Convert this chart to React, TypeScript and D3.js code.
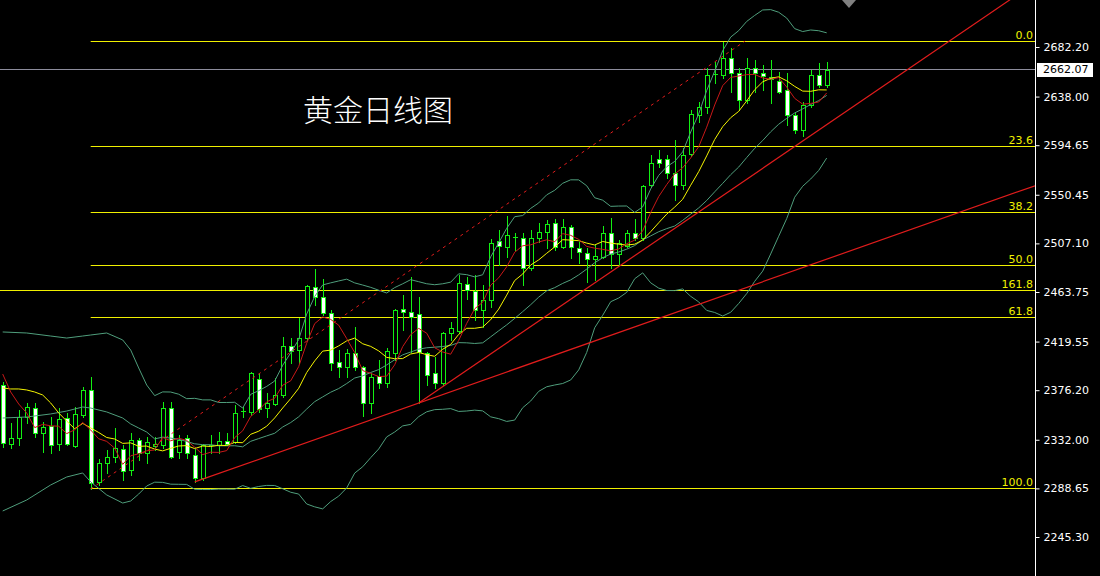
import React, { useEffect, useRef } from "react";
import * as d3 from "d3";

const W = 1100;
const H = 576;

const opens = [
  2380.8, 2328.2, 2333.6, 2352.3, 2360.3, 2338.0, 2344.3, 2328.2, 2351.4, 2326.4,
  2354.1, 2376.4, 2294.4, 2311.3, 2316.6, 2323.8, 2305.1, 2331.8, 2320.2, 2326.4,
  2327.3, 2360.3, 2321.1, 2333.6, 2318.4, 2297.9, 2326.4, 2327.3, 2330.9, 2330.0,
  2356.8, 2356.8, 2386.2, 2360.3, 2363.9, 2371.9, 2415.6, 2412.0, 2422.7, 2468.2,
  2459.3, 2445.0, 2401.3, 2396.9, 2409.4, 2396.9, 2364.8, 2388.9, 2382.6, 2409.4,
  2448.6, 2445.9, 2444.1, 2409.4, 2391.5, 2382.6, 2427.2, 2429.0, 2470.9, 2464.6,
  2447.7, 2456.6, 2509.2, 2503.9, 2512.8, 2511.9, 2485.2, 2511.9, 2517.3, 2525.3,
  2503.9, 2521.7, 2503.0, 2498.5, 2493.2, 2495.0, 2516.4, 2497.6, 2504.8, 2516.4,
  2511.9, 2559.2, 2582.3, 2582.3, 2569.9, 2559.2, 2586.8, 2621.6, 2628.7, 2657.2,
  2657.2, 2672.4, 2659.0, 2634.9, 2663.5, 2659.0, 2655.5, 2651.9, 2643.9, 2621.6,
  2608.2, 2630.5, 2657.2, 2648.3,
];
const highs = [
  2383.5, 2347.0, 2358.5, 2364.8, 2364.8, 2347.9, 2352.3, 2360.3, 2355.9, 2361.2,
  2379.0, 2388.0, 2314.9, 2322.9, 2342.5, 2327.3, 2338.0, 2333.6, 2334.5, 2334.5,
  2365.7, 2365.7, 2336.3, 2336.3, 2325.6, 2328.2, 2336.3, 2338.9, 2338.0, 2363.0,
  2361.2, 2392.4, 2391.5, 2373.7, 2387.1, 2423.6, 2422.7, 2440.6, 2470.0, 2484.3,
  2475.4, 2447.7, 2412.0, 2412.9, 2432.6, 2397.8, 2391.5, 2403.1, 2413.8, 2448.6,
  2461.1, 2477.1, 2459.3, 2410.3, 2405.8, 2428.1, 2437.0, 2478.9, 2477.1, 2478.9,
  2470.0, 2511.0, 2519.0, 2531.5, 2516.4, 2516.4, 2519.0, 2525.3, 2527.9, 2528.8,
  2528.8, 2523.5, 2508.3, 2503.0, 2505.7, 2522.6, 2529.7, 2510.1, 2519.0, 2528.8,
  2559.2, 2586.0, 2590.4, 2586.0, 2599.3, 2592.1, 2626.0, 2633.2, 2663.5, 2668.9,
  2687.0, 2681.3, 2663.5, 2672.4, 2670.6, 2666.1, 2670.6, 2659.9, 2659.0, 2624.2,
  2633.2, 2661.7, 2667.9, 2668.9,
];
const lows = [
  2325.6, 2324.7, 2327.3, 2347.0, 2334.5, 2321.1, 2320.2, 2322.9, 2327.3, 2325.6,
  2352.3, 2288.1, 2291.7, 2302.4, 2312.2, 2296.1, 2300.6, 2314.0, 2311.3, 2322.9,
  2324.7, 2315.8, 2315.8, 2315.8, 2294.4, 2296.1, 2320.2, 2320.2, 2327.3, 2329.1,
  2352.3, 2354.1, 2356.8, 2352.3, 2363.0, 2370.1, 2400.5, 2400.5, 2421.0, 2452.2,
  2443.2, 2394.2, 2388.0, 2388.0, 2394.2, 2353.2, 2355.9, 2378.2, 2379.0, 2403.1,
  2429.9, 2410.3, 2364.8, 2380.8, 2378.2, 2380.8, 2421.0, 2427.2, 2457.5, 2438.8,
  2432.6, 2450.5, 2487.8, 2495.0, 2501.2, 2470.0, 2483.4, 2508.3, 2503.0, 2501.2,
  2503.0, 2494.1, 2489.6, 2472.7, 2474.5, 2494.1, 2485.2, 2487.8, 2503.9, 2510.1,
  2510.1, 2557.4, 2575.2, 2565.4, 2545.8, 2555.6, 2585.0, 2615.3, 2623.3, 2650.1,
  2654.6, 2642.1, 2626.0, 2632.3, 2642.1, 2643.9, 2632.3, 2641.2, 2612.6, 2605.5,
  2602.8, 2628.7, 2646.5, 2646.5,
];
const closes = [
  2329.1, 2333.6, 2352.3, 2361.2, 2338.0, 2343.4, 2327.3, 2350.5, 2328.2, 2355.0,
  2376.4, 2293.5, 2311.3, 2316.6, 2324.7, 2304.2, 2331.8, 2320.2, 2330.0, 2328.2,
  2360.3, 2316.6, 2331.8, 2320.2, 2297.9, 2327.3, 2327.3, 2330.9, 2328.2, 2355.9,
  2357.6, 2391.5, 2359.4, 2364.8, 2371.9, 2415.6, 2411.2, 2422.7, 2469.1, 2459.3,
  2445.0, 2400.5, 2396.9, 2409.4, 2396.9, 2364.8, 2388.0, 2382.6, 2411.2, 2447.7,
  2445.9, 2441.5, 2410.3, 2389.8, 2382.6, 2427.2, 2431.6, 2471.8, 2465.5, 2447.7,
  2456.6, 2507.5, 2504.8, 2514.6, 2512.6, 2485.2, 2511.9, 2517.3, 2524.4, 2503.9,
  2521.7, 2503.9, 2499.4, 2493.2, 2495.9, 2516.4, 2497.6, 2507.5, 2516.4, 2511.9,
  2558.3, 2578.8, 2578.8, 2569.9, 2559.2, 2586.0, 2622.5, 2628.7, 2657.2, 2658.1,
  2672.4, 2659.0, 2634.9, 2663.5, 2659.0, 2656.3, 2653.7, 2642.1, 2621.6, 2608.2,
  2630.5, 2657.2, 2648.3, 2662.07,
];

// indicator values read at the left edge, before a full averaging window is visible
const ma5Early = [2390.6, 2374.6, 2363.9, 2355.9];
const ma10Early = [2378.2, 2377.3, 2377.3, 2376.4, 2374.6, 2371.9, 2364.8, 2355.9, 2348.7];
const bandEarlyIdx = [0, 3, 6, 8, 10, 11, 13, 15, 16, 17, 18];
const bandUpperEarly = [2428.1, 2427.2, 2424.5, 2422.7, 2424.5, 2425.4, 2427.2, 2421.0, 2412.0, 2396.0, 2380.8];
const bandMiddleEarly = [2351.4, 2352.3, 2355.0, 2357.6, 2361.2, 2360.3, 2356.8, 2351.4, 2346.1, 2342.5, 2338.9];
const bandLowerEarly = [2268.5, 2278.3, 2291.7, 2298.8, 2302.4, 2294.4, 2282.8, 2275.6, 2277.4, 2283.6, 2290.8];

const priceTicks = [2682.2, 2638.0, 2594.65, 2550.45, 2507.1, 2463.75, 2419.55, 2376.2, 2332.0, 2288.65, 2245.3];
const lastPrice = 2662.07;

const fibRatios = [0, 0.236, 0.382, 0.5, 0.618, 1];
const fibLabels = ["0.0", "23.6", "38.2", "50.0", "61.8", "100.0"];
const fibHigh = 2687.5;
const fibLow = 2288.1;
const fibStartIdx = 11;
const extLevelLabel = "161.8";
const extLevelPrice = 2465.1;

const trendDashed: [number, number][] = [[11, 2288.1], [92.8, 2687.5]];
const trendLower: [number, number][] = [[24, 2294.4], [52, 2364.8]];
const trendUpper: [number, number][] = [[52, 2364.8], [120, 2695.6]];

const title = "黄金日线图";

export default function App() {
  const ref = useRef<SVGSVGElement>(null);

  useEffect(() => {
    document.body.style.margin = "0";
    document.body.style.background = "#000";
    const svg = d3.select(ref.current);
    svg.selectAll("*").remove();

    const axisX = 1035;
    const n = closes.length;
    const x = d3.scaleLinear().domain([0, n - 1]).range([2.7, 826.7]);
    const y = d3.scaleLinear().domain([2245.3, 2682.2]).range([537, 47]);
    const crisp = (v: number) => Math.floor(v) + 0.5;

    const green = "#12f012";
    const fibColor = "#f0f000";
    const red = "#e01c1c";

    svg.append("rect").attr("width", W).attr("height", H).attr("fill", "#000");
    svg.append("defs").append("clipPath").attr("id", "plot")
      .append("rect").attr("x", 0).attr("y", 0).attr("width", axisX).attr("height", H);
    const g = svg.append("g").attr("clip-path", "url(#plot)");

    // Fibonacci levels
    const fx0 = x(fibStartIdx);
    fibRatios.forEach((r, i) => {
      const p = fibHigh - r * (fibHigh - fibLow);
      const yy = crisp(y(p));
      g.append("line").attr("x1", fx0).attr("x2", axisX).attr("y1", yy).attr("y2", yy)
        .attr("stroke", fibColor).attr("stroke-width", 1);
      svg.append("text").attr("x", 1033).attr("y", yy - 3).attr("text-anchor", "end")
        .attr("fill", fibColor).style("font", "11px 'DejaVu Sans'").text(fibLabels[i]);
    });
    {
      const yy = crisp(y(extLevelPrice));
      g.append("line").attr("x1", 0).attr("x2", axisX).attr("y1", yy).attr("y2", yy)
        .attr("stroke", fibColor).attr("stroke-width", 1);
      svg.append("text").attr("x", 1033).attr("y", yy - 3).attr("text-anchor", "end")
        .attr("fill", fibColor).style("font", "11px 'DejaVu Sans'").text(extLevelLabel);
    }

    // current price line
    {
      const yy = crisp(y(lastPrice));
      g.append("line").attr("x1", 0).attr("x2", axisX).attr("y1", yy).attr("y2", yy)
        .attr("stroke", "#8c8c9c").attr("stroke-width", 1);
    }

    // candles
    opens.forEach((o, i) => {
      const c = closes[i];
      const cx = Math.round(x(i));
      g.append("line").attr("x1", cx + 0.5).attr("x2", cx + 0.5)
        .attr("y1", Math.round(y(highs[i]))).attr("y2", Math.round(y(lows[i])) + 1)
        .attr("stroke", green).attr("stroke-width", 1);
      const yo = y(o), yc = y(c);
      const top = Math.round(Math.min(yo, yc));
      const bot = Math.round(Math.max(yo, yc));
      if (bot - top < 1.5) {
        g.append("line").attr("x1", cx - 2).attr("x2", cx + 3)
          .attr("y1", top + 0.5).attr("y2", top + 0.5).attr("stroke", green).attr("stroke-width", 1);
      } else {
        g.append("rect").attr("x", cx - 1.5).attr("y", top + 0.5).attr("width", 4).attr("height", bot - top)
          .attr("fill", c >= o ? "#000" : "#ffffff").attr("stroke", green).attr("stroke-width", 1);
      }
    });

    // indicators
    const sma = (p: number, i: number) => d3.mean(closes.slice(i - p + 1, i + 1)) as number;
    const sd = (p: number, i: number) => {
      const s = closes.slice(i - p + 1, i + 1);
      const m = d3.mean(s) as number;
      return Math.sqrt(d3.mean(s, (v) => (v - m) * (v - m)) as number);
    };
    const ma5: [number, number][] = [
      ...ma5Early.map((v, i) => [i, v] as [number, number]),
      ...d3.range(4, n).map((i) => [i, sma(5, i)] as [number, number]),
    ];
    const ma10: [number, number][] = [
      ...ma10Early.map((v, i) => [i, v] as [number, number]),
      ...d3.range(9, n).map((i) => [i, sma(10, i)] as [number, number]),
    ];
    const bandRange = d3.range(19, n);
    const bMid: [number, number][] = [
      ...bandEarlyIdx.map((k, j) => [k, bandMiddleEarly[j]] as [number, number]),
      ...bandRange.map((i) => [i, sma(20, i)] as [number, number]),
    ];
    const bUp: [number, number][] = [
      ...bandEarlyIdx.map((k, j) => [k, bandUpperEarly[j]] as [number, number]),
      ...bandRange.map((i) => [i, sma(20, i) + 2 * sd(20, i)] as [number, number]),
    ];
    const bLo: [number, number][] = [
      ...bandEarlyIdx.map((k, j) => [k, bandLowerEarly[j]] as [number, number]),
      ...bandRange.map((i) => [i, sma(20, i) - 2 * sd(20, i)] as [number, number]),
    ];
    const line = d3.line<[number, number]>().x((d) => x(d[0])).y((d) => y(d[1]));
    const bandColor = "#4f9e7c";
    [bUp, bMid, bLo].forEach((pts) => {
      g.append("path").attr("d", line(pts)).attr("fill", "none").attr("stroke", bandColor).attr("stroke-width", 1);
    });
    g.append("path").attr("d", line(ma10)).attr("fill", "none").attr("stroke", "#f5f500").attr("stroke-width", 1);
    g.append("path").attr("d", line(ma5)).attr("fill", "none").attr("stroke", "#c81818").attr("stroke-width", 1);

    // trend lines
    const endIdx = x.invert(axisX);
    const extend = (pts: [number, number][]): [number, number][] => {
      const [[i0, p0], [i1, p1]] = pts;
      const s = (p1 - p0) / (i1 - i0);
      return [[i0, p0], [endIdx, p0 + s * (endIdx - i0)]];
    };
    g.append("path").attr("d", line(trendDashed)).attr("fill", "none").attr("stroke", red)
      .attr("stroke-width", 1).attr("stroke-dasharray", "3,4");
    g.append("path").attr("d", line(extend(trendLower))).attr("fill", "none").attr("stroke", red).attr("stroke-width", 1.2);
    g.append("path").attr("d", line(extend(trendUpper))).attr("fill", "none").attr("stroke", red).attr("stroke-width", 1.2);

    // title
    svg.append("text").attr("x", 303).attr("y", 121).attr("fill", "#fff")
      .style("font-family", "'Noto Sans CJK SC'").style("font-size", "30px").style("font-weight", "300")
      .text(title);

    // shift marker
    svg.append("path").attr("d", "M842,0 L856,0 L849,8 Z").attr("fill", "#808080");

    // price axis
    const axis = d3.axisRight(y).tickValues(priceTicks).tickFormat(d3.format(".2f")).tickSize(4).tickPadding(4);
    const ag = svg.append("g").attr("transform", `translate(${axisX + 0.5},0)`).call(axis as any);
    ag.select(".domain").remove();
    ag.selectAll("line").attr("stroke", "#fff");
    ag.selectAll("text").attr("fill", "#fff").style("font", "11px 'DejaVu Sans'");
    svg.append("line").attr("x1", axisX + 0.5).attr("x2", axisX + 0.5).attr("y1", 0).attr("y2", H)
      .attr("stroke", "#fff").attr("stroke-width", 1);

    // last price box
    const ly = y(lastPrice);
    svg.append("rect").attr("x", 1037).attr("y", Math.round(ly) - 7).attr("width", 56).attr("height", 14).attr("fill", "#fff");
    svg.append("text").attr("x", 1043).attr("y", ly).attr("dy", "0.35em").attr("fill", "#000")
      .style("font", "11px 'DejaVu Sans'").text(d3.format(".2f")(lastPrice));
  }, []);

  return (
    <svg
      ref={ref}
      width={W}
      height={H}
      style={{ position: "fixed", left: 0, top: 0, display: "block", background: "#000" }}
    />
  );
}
